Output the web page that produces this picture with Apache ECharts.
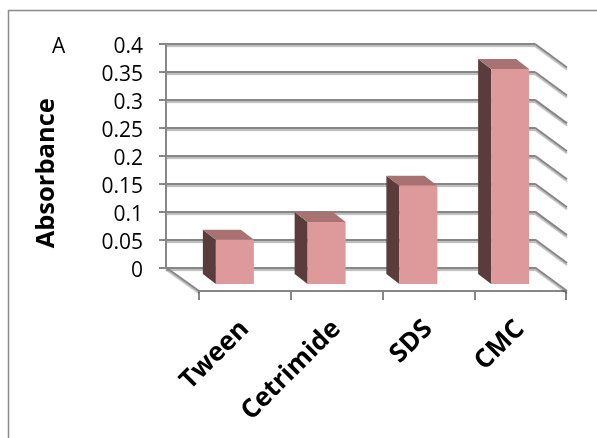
<!DOCTYPE html>
<html>
<head>
<meta charset="utf-8">
<style>html,body{margin:0;padding:0;background:#fff}#chart{width:597px;height:438px}</style>
<script src="https://cdn.jsdelivr.net/npm/echarts@6/dist/echarts.min.js"></script>
</head>
<body>
<div id="chart"></div>
<script>
const categories = ['Tween', 'Cetrimide', 'SDS', 'CMC'];
const absorbance = [0.079, 0.111, 0.176, 0.385];
const gridTicks = [0, 0.05, 0.1, 0.15, 0.2, 0.25, 0.3, 0.35, 0.4];

const FONT = '"Open Sans", "Noto Sans", sans-serif';
const LINE = '#868686';
const DEPTH_X = 32, DEPTH_Y = 23.5;
const shadow = { shadowColor: 'rgba(0,0,0,0.28)', shadowOffsetY: 2, shadowOffsetX: 0, shadowBlur: 1 };

// Oblique column: front face, dark left side and a lighter top
function renderColumn(params, api) {
  const top = api.coord([api.value(0), api.value(1)]);
  const base = api.coord([api.value(0), 0]);
  const fL = top[0] - 29, fR = top[0] + 9;
  const fT = top[1] - 7, fB = base[1] - 7;
  const dx = 13, dy = 10;
  return {
    type: 'group',
    children: [
      { type: 'polygon', shape: { points: [[fL, fT], [fL - dx, fT - dy], [fL - dx, fB - dy], [fL, fB]] },
        style: { fill: '#5b3c3c' } },
      { type: 'polygon', shape: { points: [[fL, fT], [fL - dx, fT - dy], [fR - dx, fT - dy], [fR, fT]] },
        style: { fill: '#a87272' } },
      { type: 'rect', shape: { x: fL, y: fT, width: fR - fL, height: fB - fT },
        style: { fill: '#de9a9a' } }
    ]
  };
}

// Side-wall lines running from the back wall towards the viewer
function renderWallLine(params, api) {
  const cs = params.coordSys;
  const y = api.coord([0, api.value(0)])[1];
  const x = cs.x + cs.width;
  return {
    type: 'polyline',
    shape: { points: [[x, y], [x + DEPTH_X, y + DEPTH_Y]] },
    style: Object.assign({ stroke: LINE, lineWidth: 2, fill: null }, shadow)
  };
}

// Floor edge on the left, from the wall corner to the front axis
function renderFloorEdge(params, api) {
  const cs = params.coordSys;
  const y = api.coord([0, 0])[1];
  return {
    type: 'polyline',
    shape: { points: [[cs.x, y], [cs.x + DEPTH_X + 1, y + DEPTH_Y]] },
    style: Object.assign({ stroke: LINE, lineWidth: 2, fill: null }, shadow)
  };
}

const chart = echarts.init(document.getElementById('chart'), null, { renderer: 'canvas' });
chart.setOption({
  animation: false,
  backgroundColor: '#fff',
  grid: [
    { left: 166, top: 44, width: 369, height: 223.5 },
    { left: 199, top: 67.5, width: 367, height: 223.5 }
  ],
  xAxis: [
    { gridIndex: 0, type: 'category', data: categories, show: false },
    {
      gridIndex: 1, type: 'category', data: categories, position: 'bottom',
      axisLine: { lineStyle: { color: LINE, width: 2 } },
      axisTick: { show: true, length: 9, lineStyle: { color: LINE, width: 2 } },
      axisLabel: { rotate: 45, margin: 34, interval: 0, color: '#000',
        fontFamily: FONT, fontWeight: 'bold', fontSize: 26 }
    }
  ],
  yAxis: [
    {
      gridIndex: 0, type: 'value', min: 0, max: 0.4, interval: 0.05,
      name: 'Absorbance', nameLocation: 'middle', nameGap: 106, nameRotate: 90,
      nameTextStyle: { color: '#000', fontFamily: FONT, fontWeight: 'bold', fontSize: 25.5,
        padding: [0, 35, 0, 0] },
      axisLine: { show: true, lineStyle: { color: LINE, width: 2 } },
      axisTick: { show: true, length: 7, lineStyle: { color: LINE, width: 2 } },
      axisLabel: { margin: 23, color: '#000', fontFamily: FONT, fontSize: 21,
        verticalAlign: 'top', lineHeight: 21, align: 'right', padding: [-7, 0, 0, 0] },
      splitLine: { show: true, lineStyle: Object.assign({ color: LINE, width: 2 }, shadow) }
    },
    { gridIndex: 1, type: 'value', min: 0, max: 0.4, interval: 0.05, show: false }
  ],
  series: [
    { type: 'custom', xAxisIndex: 0, yAxisIndex: 0, clip: false, data: gridTicks.map(v => [v]),
      renderItem: renderWallLine, encode: { y: 0 }, silent: true },
    { type: 'custom', xAxisIndex: 0, yAxisIndex: 0, clip: false, data: [[0]],
      renderItem: renderFloorEdge, encode: { y: 0 }, silent: true },
    { type: 'custom', xAxisIndex: 1, yAxisIndex: 1, clip: false,
      data: categories.map((c, i) => [i, absorbance[i]]),
      renderItem: renderColumn, encode: { x: 0, y: 1 }, z: 5 }
  ],
  graphic: [
    { type: 'text', left: 52, top: 37, style: { text: 'A', font: '21px ' + FONT, fill: '#000' } },
    { type: 'polyline', shape: { points: [[8.5, 438], [8.5, 10.5], [597, 10.5]] },
      style: { stroke: '#8c8c8c', lineWidth: 1.5, fill: null } },
    { type: 'rect', z: 100, shape: { x: 94, y: 62, width: 7.5, height: 20 }, style: { fill: '#fff' } }
  ]
});
</script>
</body>
</html>
